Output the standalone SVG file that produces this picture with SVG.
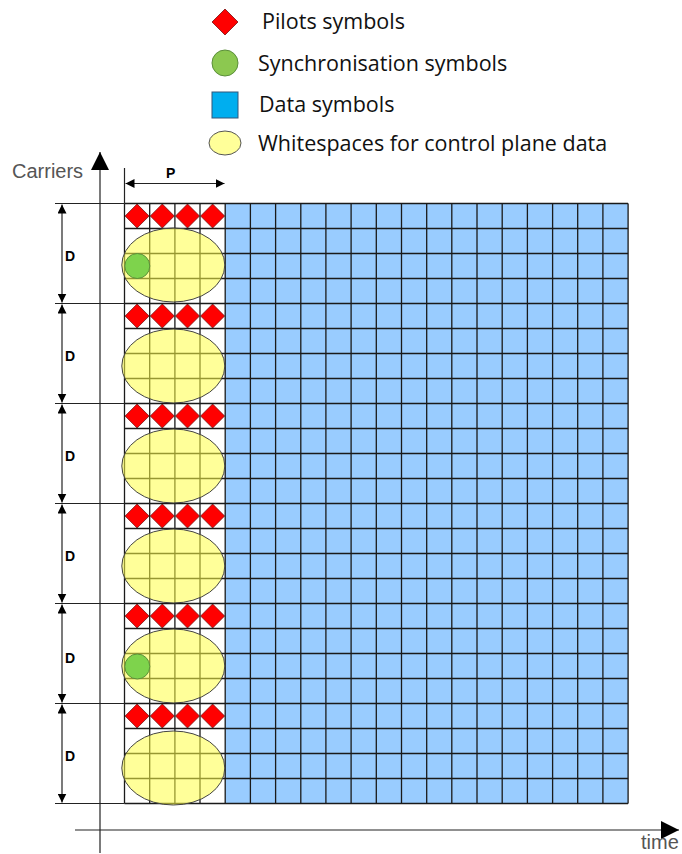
<svg xmlns="http://www.w3.org/2000/svg" xmlns:xlink="http://www.w3.org/1999/xlink" width="682" height="854" viewBox="0 0 682 854">
  <style>
    .legend { font-family: "Open Sans", "Liberation Sans", sans-serif; font-size: 21.5px; fill: #111; }
    .axis-label { font-family: "Liberation Sans", Arial, sans-serif; font-size: 20px; fill: #555; }
    .dim { font-family: "Liberation Sans", Arial, sans-serif; font-size: 14px; font-weight: bold; fill: #000; }
    .pilot { fill: #ff0000; stroke: #7a1010; stroke-width: 0.8; }
    .sync { fill: #7ed34c; stroke: #5b8f3a; stroke-width: 1; }
    .white-space { fill: #ffff46; fill-opacity: 0.55; stroke: #444; stroke-width: 1; }
    .gridline { fill: none; stroke: #1a1a1a; stroke-width: 1.3; }
    .line { fill: none; stroke: #222; stroke-width: 1.2; }
  </style>
  <defs>
    <polygon id="diamond" class="pilot" points="0,-12 12,0 0,12 -12,0"/>
    <marker id="arrowDim" viewBox="0 0 10 10" refX="10" refY="5" markerWidth="9" markerHeight="9" markerUnits="userSpaceOnUse" orient="auto-start-reverse">
      <path d="M0,0 L10,5 L0,10 z" fill="#000"/>
    </marker>
    <marker id="arrowAxis" viewBox="0 0 10 10" refX="10" refY="5" markerWidth="22" markerHeight="18" markerUnits="userSpaceOnUse" orient="auto">
      <path d="M0,0 L10,5 L0,10 z" fill="#000"/>
    </marker>
  </defs>

  <rect width="682" height="854" fill="#fff"/>

  <!-- legend -->
  <g id="legend-pilots">
    <polygon class="pilot" points="225,9 238,22 225,35 212,22"/>
    <text class="legend" x="262" y="29">Pilots symbols</text>
  </g>
  <g id="legend-sync">
    <circle cx="225" cy="63" r="13" fill="#8cc850" stroke="#5b8f3a" stroke-width="1"/>
    <text class="legend" x="258" y="71">Synchronisation symbols</text>
  </g>
  <g id="legend-data">
    <rect x="212" y="92" width="26" height="26" fill="#00aeef" stroke="#33577a" stroke-width="1"/>
    <text class="legend" x="259" y="112">Data symbols</text>
  </g>
  <g id="legend-whitespace">
    <ellipse cx="225" cy="143" rx="16" ry="12" fill="#ffff99" stroke="#555" stroke-width="1"/>
    <text class="legend" x="258" y="151">Whitespaces for control plane data</text>
  </g>

  <!-- resource grid: 20 symbols x 24 carriers -->
  <g id="grid">
    <rect x="124.5" y="203.5" width="100.7" height="600" fill="#fff"/>
    <rect x="225.2" y="203.5" width="402.9" height="600" fill="#99ccff"/>
  </g>

  <!-- pilot rows, one per block of D carriers -->
  <g id="pilots">
    <use xlink:href="#diamond" x="137.1" y="216"/><use xlink:href="#diamond" x="162.3" y="216"/><use xlink:href="#diamond" x="187.5" y="216"/><use xlink:href="#diamond" x="212.6" y="216"/>
    <use xlink:href="#diamond" x="137.1" y="316"/><use xlink:href="#diamond" x="162.3" y="316"/><use xlink:href="#diamond" x="187.5" y="316"/><use xlink:href="#diamond" x="212.6" y="316"/>
    <use xlink:href="#diamond" x="137.1" y="416"/><use xlink:href="#diamond" x="162.3" y="416"/><use xlink:href="#diamond" x="187.5" y="416"/><use xlink:href="#diamond" x="212.6" y="416"/>
    <use xlink:href="#diamond" x="137.1" y="516"/><use xlink:href="#diamond" x="162.3" y="516"/><use xlink:href="#diamond" x="187.5" y="516"/><use xlink:href="#diamond" x="212.6" y="516"/>
    <use xlink:href="#diamond" x="137.1" y="616"/><use xlink:href="#diamond" x="162.3" y="616"/><use xlink:href="#diamond" x="187.5" y="616"/><use xlink:href="#diamond" x="212.6" y="616"/>
    <use xlink:href="#diamond" x="137.1" y="716"/><use xlink:href="#diamond" x="162.3" y="716"/><use xlink:href="#diamond" x="187.5" y="716"/><use xlink:href="#diamond" x="212.6" y="716"/>
  </g>

  <!-- grid lines -->
  <g id="grid-lines">
    <path class="gridline" d="M124.5,203.5V803.5 M149.7,203.5V803.5 M174.9,203.5V803.5 M200,203.5V803.5 M225.2,203.5V803.5 M250.4,203.5V803.5 M275.6,203.5V803.5 M300.8,203.5V803.5 M325.9,203.5V803.5 M351.1,203.5V803.5 M376.3,203.5V803.5 M401.5,203.5V803.5 M426.7,203.5V803.5 M451.8,203.5V803.5 M477,203.5V803.5 M502.2,203.5V803.5 M527.4,203.5V803.5 M552.6,203.5V803.5 M577.7,203.5V803.5 M602.9,203.5V803.5 M628.1,203.5V803.5"/>
    <path class="gridline" d="M124.5,203.5H628.1 M124.5,228.5H628.1 M124.5,253.5H628.1 M124.5,278.5H628.1 M124.5,303.5H628.1 M124.5,328.5H628.1 M124.5,353.5H628.1 M124.5,378.5H628.1 M124.5,403.5H628.1 M124.5,428.5H628.1 M124.5,453.5H628.1 M124.5,478.5H628.1 M124.5,503.5H628.1 M124.5,528.5H628.1 M124.5,553.5H628.1 M124.5,578.5H628.1 M124.5,603.5H628.1 M124.5,628.5H628.1 M124.5,653.5H628.1 M124.5,678.5H628.1 M124.5,703.5H628.1 M124.5,728.5H628.1 M124.5,753.5H628.1 M124.5,778.5H628.1 M124.5,803.5H628.1"/>
  </g>

  <!-- whitespace regions for control plane data -->
  <g id="whitespace-1"><ellipse class="white-space" cx="173.3" cy="265" rx="51.5" ry="37"/></g>
  <g id="whitespace-2"><ellipse class="white-space" cx="173.3" cy="366" rx="51.5" ry="37"/></g>
  <g id="whitespace-3"><ellipse class="white-space" cx="173.3" cy="466" rx="51.5" ry="37"/></g>
  <g id="whitespace-4"><ellipse class="white-space" cx="173.3" cy="566" rx="51.5" ry="37"/></g>
  <g id="whitespace-5"><ellipse class="white-space" cx="173.3" cy="666" rx="51.5" ry="37"/></g>
  <g id="whitespace-6"><ellipse class="white-space" cx="173.3" cy="768" rx="51.5" ry="37"/></g>

  <!-- synchronisation symbols -->
  <g id="sync-1"><circle class="sync" cx="137.3" cy="266" r="12.5"/></g>
  <g id="sync-2"><circle class="sync" cx="137.3" cy="666.5" r="12.5"/></g>

  <!-- axes, dimension lines and labels -->
  <g id="connectors">
    <!-- block boundary extension lines -->
    <path class="line" d="M55,203.5H124.5 M55,303.5H124.5 M55,403.5H124.5 M55,503.5H124.5 M55,603.5H124.5 M55,703.5H124.5 M55,803.5H124.5"/>
    <!-- carriers axis -->
    <line class="line" x1="100" y1="853" x2="100" y2="152" stroke-width="1.5" marker-end="url(#arrowAxis)"/>
    <!-- time axis -->
    <line class="line" x1="75" y1="830" x2="679" y2="830" stroke-width="1.5" marker-end="url(#arrowAxis)"/>
    <!-- P dimension -->
    <line class="line" x1="124.5" y1="168" x2="124.5" y2="203.5"/>
    <line class="line" x1="125.5" y1="183.5" x2="224.5" y2="183.5" marker-start="url(#arrowDim)" marker-end="url(#arrowDim)"/>
    <!-- D dimensions -->
    <line class="line" x1="62" y1="204.5" x2="62" y2="302.5" marker-start="url(#arrowDim)" marker-end="url(#arrowDim)"/>
    <line class="line" x1="62" y1="304.5" x2="62" y2="402.5" marker-start="url(#arrowDim)" marker-end="url(#arrowDim)"/>
    <line class="line" x1="62" y1="404.5" x2="62" y2="502.5" marker-start="url(#arrowDim)" marker-end="url(#arrowDim)"/>
    <line class="line" x1="62" y1="504.5" x2="62" y2="602.5" marker-start="url(#arrowDim)" marker-end="url(#arrowDim)"/>
    <line class="line" x1="62" y1="604.5" x2="62" y2="702.5" marker-start="url(#arrowDim)" marker-end="url(#arrowDim)"/>
    <line class="line" x1="62" y1="704.5" x2="62" y2="802.5" marker-start="url(#arrowDim)" marker-end="url(#arrowDim)"/>
  </g>

  <g id="labels">
    <text class="axis-label" x="12" y="178">Carriers</text>
    <text class="axis-label" x="641" y="849">time</text>
    <text class="dim" x="166" y="178">P</text>
    <text class="dim" x="65" y="261">D</text>
    <text class="dim" x="65" y="361">D</text>
    <text class="dim" x="65" y="461">D</text>
    <text class="dim" x="65" y="561">D</text>
    <text class="dim" x="65" y="663">D</text>
    <text class="dim" x="65" y="761">D</text>
  </g>
</svg>
